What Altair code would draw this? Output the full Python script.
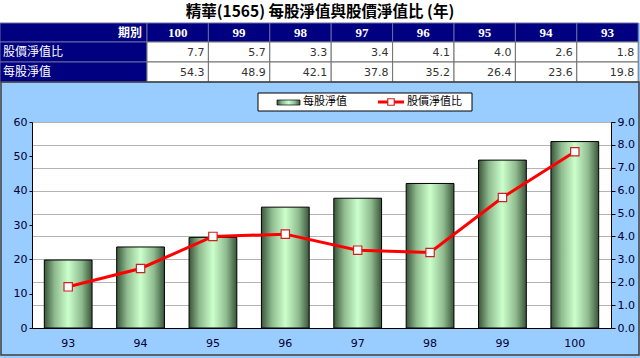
import altair as alt
import pandas as pd

# ---------------- data ----------------
periods = ["93", "94", "95", "96", "97", "98", "99", "100"]
nav = [19.8, 23.6, 26.4, 35.2, 37.8, 42.1, 48.9, 54.3]          # 每股淨值
pbr = [1.8, 2.6, 4.0, 4.1, 3.4, 3.3, 5.7, 7.7]                  # 股價淨值比
title_text = "精華(1565) 每股淨值與股價淨值比 (年)"
header_label = "期別"
row_labels = ["股價淨值比", "每股淨值"]
legend_labels = ["每股淨值", "股價淨值比"]
left_ticks = [0, 10, 20, 30, 40, 50, 60]
right_ticks = [0, 1, 2, 3, 4, 5, 6, 7, 8, 9]

# ---------------- layout ----------------
OX, OY = 32, 122          # plot origin in page pixels
W, H = 579, 206           # plot size
CJK = "Noto Sans CJK TC"
NUM = "DejaVu Sans"
NAVY = "#000080"
AXC = "#000033"


def px(v):
    return v - OX


def py(v):
    return v - OY


one = pd.DataFrame({"a": [0]})
main = pd.DataFrame({"period": periods, "nav": nav, "pbr": pbr})

# table geometry
TL, CW = 147, 61.4
ROWS = [(23, 42), (42, 62), (62, 82)]
tab_periods = list(reversed(periods))
tab_pbr = list(reversed(pbr))
tab_nav = list(reversed(nav))

hdr_cells = pd.DataFrame({
    "x0": [px(0)] + [px(TL + i * CW) for i in range(8)],
    "x1": [px(TL)] + [px(TL + (i + 1) * CW) for i in range(8)],
    "y0": py(ROWS[0][0]), "y1": py(ROWS[0][1]),
})
lab_cells = pd.DataFrame({
    "x0": px(0), "x1": px(TL),
    "y0": [py(ROWS[1][0]), py(ROWS[2][0])],
    "y1": [py(ROWS[1][1]), py(ROWS[2][1])],
    "label": row_labels,
})
val_rows = []
for r, vals in ((1, tab_pbr), (2, tab_nav)):
    for i, v in enumerate(vals):
        val_rows.append({
            "x0": px(TL + i * CW), "x1": px(TL + (i + 1) * CW),
            "xr": px(TL + (i + 1) * CW - 4),
            "y0": py(ROWS[r][0]), "y1": py(ROWS[r][1]),
            "ym": py((ROWS[r][0] + ROWS[r][1]) / 2 + 1),
            "txt": f"{v:.1f}",
        })
val_cells = pd.DataFrame(val_rows)
hdr_text = pd.DataFrame({
    "xc": [px(TL + (i + 0.5) * CW) for i in range(8)],
    "txt": tab_periods,
})

PX = lambda f: alt.X(f, scale=None, axis=None)
PY = lambda f: alt.Y(f, scale=None, axis=None)

# ---------------- decoration layers ----------------
title_bg = alt.Chart(one).mark_rect(color="white").encode(
    x=alt.value(px(0)), x2=alt.value(px(640)), y=alt.value(py(0)), y2=alt.value(py(23)))
title = alt.Chart(one).mark_text(
    text=title_text, font=CJK, fontSize=15.5, fontWeight="bold", color="black",
    align="center", baseline="middle").encode(x=alt.value(px(320)), y=alt.value(py(12)))

hdr_rect = alt.Chart(hdr_cells).mark_rect(fill=NAVY, stroke="#6a6aa0", strokeWidth=1).encode(
    x=PX("x0:Q"), x2="x1:Q", y=PY("y0:Q"), y2="y1:Q")
lab_rect = alt.Chart(lab_cells).mark_rect(fill=NAVY, stroke="#6a6aa0", strokeWidth=1).encode(
    x=PX("x0:Q"), x2="x1:Q", y=PY("y0:Q"), y2="y1:Q")
val_rect = alt.Chart(val_cells).mark_rect(fill="white", stroke="#707070", strokeWidth=1).encode(
    x=PX("x0:Q"), x2="x1:Q", y=PY("y0:Q"), y2="y1:Q")

hdr_lab = alt.Chart(one).mark_text(
    text=header_label, font=CJK, fontSize=12, fontWeight="bold", color="white",
    align="right", baseline="middle").encode(x=alt.value(px(142)), y=alt.value(py(32.5)))
hdr_num = alt.Chart(hdr_text).mark_text(
    font="Liberation Serif", fontSize=13, fontWeight="bold", color="white",
    align="center", baseline="middle").encode(
    x=PX("xc:Q"), y=alt.value(py(33)), text="txt:N")
row_lab = alt.Chart(lab_cells).mark_text(
    font=CJK, fontSize=12, color="white", align="left", baseline="middle").encode(
    x=alt.value(px(3)), y=PY("y0:Q"), text="label:N", yOffset=alt.value(10))
val_txt = alt.Chart(val_cells).mark_text(
    font=NUM, fontSize=11, color="#333333", align="right", baseline="middle").encode(
    x=PX("xr:Q"), y=PY("ym:Q"), text="txt:N")

frame = alt.Chart(one).mark_rect(fill=None, stroke="#404040", strokeWidth=1.5).encode(
    x=alt.value(px(1)), x2=alt.value(px(639)), y=alt.value(py(82)), y2=alt.value(py(355)))

# ---------------- main chart ----------------
bar_grad = alt.Gradient(
    gradient="linear", x1=0, x2=1, y1=0, y2=0,
    stops=[alt.GradientStop(offset=0, color="#3a553a"),
           alt.GradientStop(offset=0.22, color="#8fbb8f"),
           alt.GradientStop(offset=0.5, color="#ccffcc"),
           alt.GradientStop(offset=0.78, color="#8fbb8f"),
           alt.GradientStop(offset=1, color="#3a553a")])

xenc = alt.X("period:N", sort=periods,
             scale=alt.Scale(paddingInner=0.34, paddingOuter=0.17),
             axis=alt.Axis(title=None, labelAngle=0, ticks=False, labelPadding=9,
                           domainColor="black", labelFont=NUM, labelFontSize=11,
                           labelColor=AXC))

bars = alt.Chart(main).mark_bar(fill=bar_grad, stroke="black", strokeWidth=1).encode(
    x=xenc,
    y=alt.Y("nav:Q", scale=alt.Scale(domain=[0, 60], nice=False),
            axis=alt.Axis(orient="left", title=None, values=left_ticks, grid=False,
                          domainColor="black", tickColor="black", tickSize=3,
                          labelPadding=2, labelFont=NUM, labelFontSize=11,
                          labelColor=AXC)))

yr = alt.Y("pbr:Q", scale=alt.Scale(domain=[0, 9], nice=False),
           axis=alt.Axis(orient="right", title=None, values=right_ticks, format=".1f",
                         grid=True, gridColor="#b4b4b4", domainColor="black",
                         tickColor="black", tickSize=4, labelPadding=2,
                         labelFont=NUM, labelFontSize=11, labelColor=AXC))
line = alt.Chart(main).mark_line(color="#ff0000", strokeWidth=3).encode(x=xenc, y=yr)
pts = alt.Chart(main).mark_point(shape="square", size=70, filled=True, fill="white",
                                 stroke="#cc2222", strokeWidth=1.2, opacity=1).encode(
    x=xenc, y=yr)
line_grp = alt.layer(line, pts)

# ---------------- legend ----------------
leg_box = alt.Chart(one).mark_rect(fill="white", stroke="black", strokeWidth=1).encode(
    x=alt.value(px(258)), x2=alt.value(px(472)), y=alt.value(py(93)), y2=alt.value(py(111)))
leg_bar = alt.Chart(one).mark_rect(fill=bar_grad, stroke="black", strokeWidth=0.7).encode(
    x=alt.value(px(277)), x2=alt.value(px(300)), y=alt.value(py(100)), y2=alt.value(py(105)))
leg_t1 = alt.Chart(one).mark_text(
    text=legend_labels[0], font=CJK, fontSize=11, color="black",
    align="left", baseline="middle").encode(x=alt.value(px(303)), y=alt.value(py(102)))
leg_line = alt.Chart(one).mark_rule(color="#ff0000", strokeWidth=3).encode(
    x=alt.value(px(378)), x2=alt.value(px(404)), y=alt.value(py(102)))
leg_pt = alt.Chart(one).mark_point(shape="square", size=42, filled=True, fill="white",
                                   stroke="#cc2222", strokeWidth=1.2, opacity=1).encode(
    x=alt.value(px(391)), y=alt.value(py(102)))
leg_t2 = alt.Chart(one).mark_text(
    text=legend_labels[1], font=CJK, fontSize=11, color="black",
    align="left", baseline="middle").encode(x=alt.value(px(407)), y=alt.value(py(102)))

chart = alt.layer(
    title_bg, title, hdr_rect, lab_rect, val_rect, hdr_lab, hdr_num, row_lab, val_txt,
    frame, bars, line_grp, leg_box, leg_bar, leg_t1, leg_line, leg_pt, leg_t2,
).resolve_scale(y="independent").properties(
    width=W, height=H,
    autosize=alt.AutoSizeParams(type="none"),
    padding={"left": OX, "top": OY, "right": 640 - OX - W, "bottom": 358 - OY - H},
    background="#99ccff",
).configure_view(fill="white", stroke="#808080", strokeWidth=1)

chart.save("out.html", embed_options={"renderer": "svg", "actions": False})
